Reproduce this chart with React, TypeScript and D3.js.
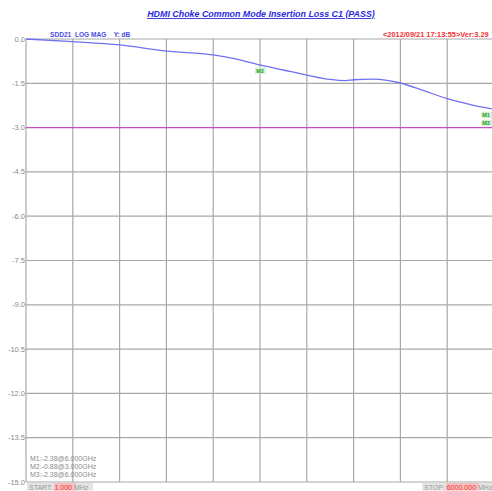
import React from 'react'
import * as d3 from 'd3'

const freqMHz = [1, 600, 1200, 1800, 2400, 2700, 3000, 3300, 3600, 3900, 4100, 4200, 4450, 4800, 5100, 5400, 5700, 6000]
const sdd21 = [0.0, -0.09, -0.2, -0.41, -0.54, -0.68, -0.88, -1.05, -1.22, -1.37, -1.41, -1.38, -1.36, -1.49, -1.75, -2.02, -2.22, -2.38]
const yTicks = [0, -1.5, -3.0, -4.5, -6.0, -7.5, -9.0, -10.5, -12.0, -13.5, -15.0]
const xTickCount = 10
const limitDb = -3.0
const markers = [
  { name: 'M1', f: 6000, v: -2.38 },
  { name: 'M2', f: 3000, v: -0.88 },
  { name: 'M3', f: 6000, v: -2.38 }
]
const markerLines = ['M1:-2.38@6.000GHz', 'M2:-0.88@3.000GHz', 'M3:-2.38@6.000GHz']

const width = 492
const height = 491
const margin = { top: 39, right: -2, bottom: 9, left: 26 }

export default function App() {
  const x = d3.scaleLinear().domain([1, 6000]).range([margin.left, width - margin.right])
  const y = d3.scaleLinear().domain([0, -15]).range([margin.top, height - margin.bottom])
  const xGrid = d3.range(xTickCount + 1).map((i) => 1 + (i * (6000 - 1)) / xTickCount)

  const line = d3
    .line<number>()
    .x((_, i) => x(freqMHz[i]))
    .y((d) => y(d))
    .curve(d3.curveMonotoneX)

  const font = 'Arial, "Liberation Sans", sans-serif'

  return (
    <svg width={width} height={height} style={{ position: 'absolute', left: 0, top: 0, background: '#fff', whiteSpace: 'pre' }} fontFamily={font}>
      <text x={261} y={17} textAnchor="middle" fontSize={8.9} fontWeight="bold" fontStyle="italic" fill="#2a2ae0" textDecoration="underline">
        HDMI Choke Common Mode Insertion Loss C1 (PASS)
      </text>
      <text x={50} y={37} fontSize={6.6} fontWeight="bold" fill="#4a4ae8" xmlSpace="preserve">
        {'SDD21  LOG MAG    Y: dB'}
      </text>
      <text x={383} y={37} fontSize={7.4} fontWeight="bold" fill="#f03030">
        {'<2012/09/21 17:13:55>Ver:3.29'}
      </text>

      {xGrid.map((f, i) => (
        <line key={'vx' + i} x1={x(f)} x2={x(f)} y1={y(0)} y2={y(-15)} stroke="#a8a8a8" strokeWidth={1.2} />
      ))}
      {yTicks.map((t) => (
        <g key={'hy' + t}>
          <line x1={x(1)} x2={width} y1={y(t)} y2={y(t)} stroke={t === limitDb ? 'none' : '#a8a8a8'} strokeWidth={1.2} />
          <text x={margin.left - 1} y={y(t) + 2.5} textAnchor="end" fontSize={7.5} fill="#8a8a8a">
            {t.toFixed(1)}
          </text>
        </g>
      ))}
      <line x1={x(1)} x2={width} y1={y(limitDb)} y2={y(limitDb)} stroke="#c84ac8" strokeWidth={1.2} />

      <path d={line(sdd21) ?? ''} fill="none" stroke="#7070f0" strokeWidth={1.3} />

      {markers.map((m, i) => {
        const mx = Math.min(x(m.f), width - 6)
        const my = m.name === 'M2' ? y(m.v) + 6 : y(m.v) + 6 + (m.name === 'M3' ? 8 : 0)
        return (
          <g key={m.name + i}>
            <rect x={mx - 5} y={my - 3.5} width={11} height={6.5} fill="#d8f0d8" />
            <text x={mx} y={my + 2} textAnchor="middle" fontSize={5.5} fontWeight="bold" fill="#1a9a1a">
              {m.name}
            </text>
          </g>
        )
      })}

      {markerLines.map((s, i) => (
        <text key={s} x={30} y={461} dy={i * 7.8} fontSize={7} fill="#8a8a8a">
          {s}
        </text>
      ))}

      <rect x={27} y={483} width={66} height={7.5} fill="#e4e4e4" />
      <rect x={54} y={483} width={22} height={7.5} fill="#ffb0b0" opacity={0.7} />
      <text x={29} y={489.5} fontSize={7} fill="#9a9a9a">
        START:
        <tspan fill="#f03030"> 1.000</tspan> MHz
      </text>
      <rect x={422} y={483} width={70} height={7.5} fill="#e4e4e4" />
      <rect x={446} y={483} width={33} height={7.5} fill="#ffb0b0" opacity={0.7} />
      <text x={424} y={489.5} fontSize={7} fill="#9a9a9a">
        STOP:
        <tspan fill="#f03030"> 6000.000</tspan> MHz
      </text>
    </svg>
  )
}
